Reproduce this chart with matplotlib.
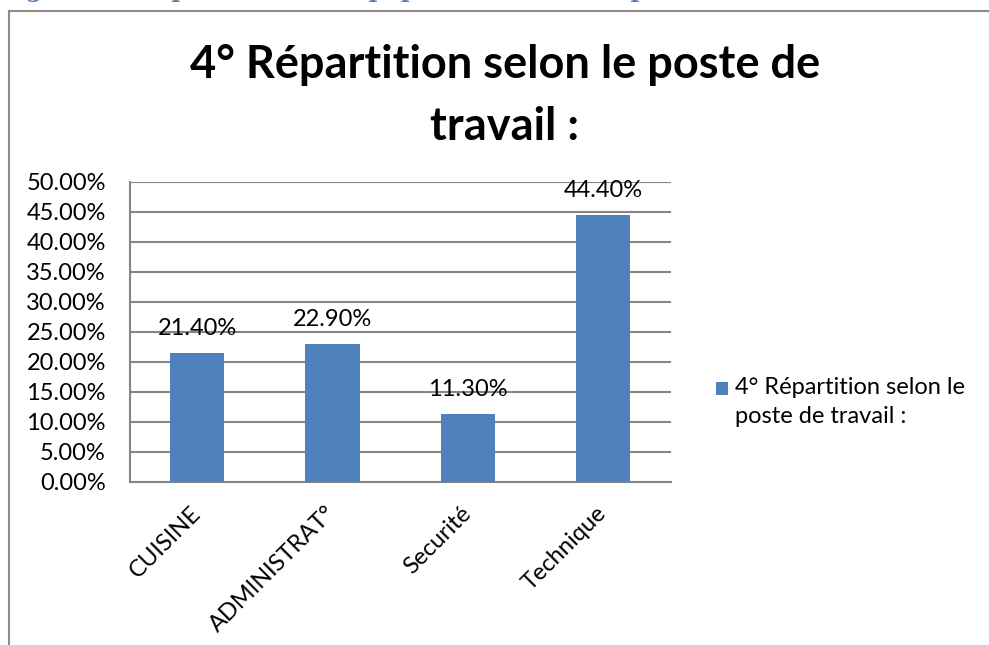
import matplotlib.pyplot as plt
from matplotlib.lines import Line2D
from matplotlib.patches import Rectangle
from matplotlib.legend_handler import HandlerPatch
from matplotlib.ticker import FuncFormatter

# Data
categories = ["CUISINE", "ADMINISTRAT°", "Securité", "Technique"]
values = [21.40, 22.90, 11.30, 44.40]
series_name = "4° Répartition selon le\nposte de travail :"
title = "4° Répartition selon le poste de\ntravail :"

W, H = 989, 645
BLUE = "#4F81BD"
GRID = "#868686"
FS = 17

plt.rcParams["font.family"] = ["Lato", "DejaVu Sans"]

fig = plt.figure(figsize=(W / 100, H / 100), dpi=100)

# cropped caption from the document, only its descenders show at the top
fig.text(0.0, 1 + 3.5 / H, "Figure 4 : Répartition de la population selon le poste de travail",
         family=["DejaVu Serif"], fontweight="bold", fontsize=17, color=BLUE,
         ha="left", va="baseline")

# chart frame (left and top edges visible, rest cropped)
fig.add_artist(Line2D([8.5 / W, 8.5 / W], [0, 1 - 10.5 / H], transform=fig.transFigure,
                      color="#8c8c8c", lw=1.5))
fig.add_artist(Line2D([8.5 / W, 1], [1 - 10.5 / H, 1 - 10.5 / H], transform=fig.transFigure,
                      color="#8c8c8c", lw=1.5))

ax = fig.add_axes([129.5 / W, (H - 482) / H, 541.5 / W, (482 - 181.5) / H])

x = range(len(categories))
bars = ax.bar(x, values, width=0.4, color=BLUE, zorder=3)
ax.bar_label(bars, labels=[f"{v:.2f}%" for v in values], padding=10, fontsize=FS)

ax.set_xlim(-0.5, len(categories) - 0.5)
ax.set_ylim(0, 50)
ax.set_yticks(range(0, 51, 5))
ax.yaxis.set_major_formatter(FuncFormatter(lambda v, p: f"{v:.2f}%"))
ax.grid(axis="y", color=GRID, lw=1.5, zorder=0)

ax.set_xticks(list(x))
ax.set_xticklabels(categories, rotation=45, ha="right", va="center", rotation_mode="anchor")
ax.tick_params(axis="x", length=0, pad=20, labelsize=FS)
ax.tick_params(axis="y", length=0, pad=17, labelsize=FS)

for s in ["top", "right"]:
    ax.spines[s].set_visible(False)
for s in ["left", "bottom"]:
    ax.spines[s].set_color(GRID)
    ax.spines[s].set_linewidth(1.5)

fig.text(505 / W, 1 - 96 / H, title, ha="center", va="center", fontsize=32.5,
         fontweight="bold", linespacing=1.6)


# legend square sits next to the first line of the two-line label, as in Excel
def top_square(legend, orig_handle, xdescent, ydescent, width, height, fontsize):
    return Rectangle((-xdescent, -ydescent + 10), width, height)


leg = fig.legend([bars[0]], [series_name], loc="upper left",
                 bbox_to_anchor=(716 / W, 1 - 377 / H), frameon=False, borderpad=0,
                 borderaxespad=0, fontsize=FS, handlelength=0.5, handleheight=0.5,
                 handletextpad=0.3,
                 handler_map={Rectangle: HandlerPatch(patch_func=top_square)})
leg.get_texts()[0].set_linespacing(1.5)

fig.savefig("out.png", dpi=100)
